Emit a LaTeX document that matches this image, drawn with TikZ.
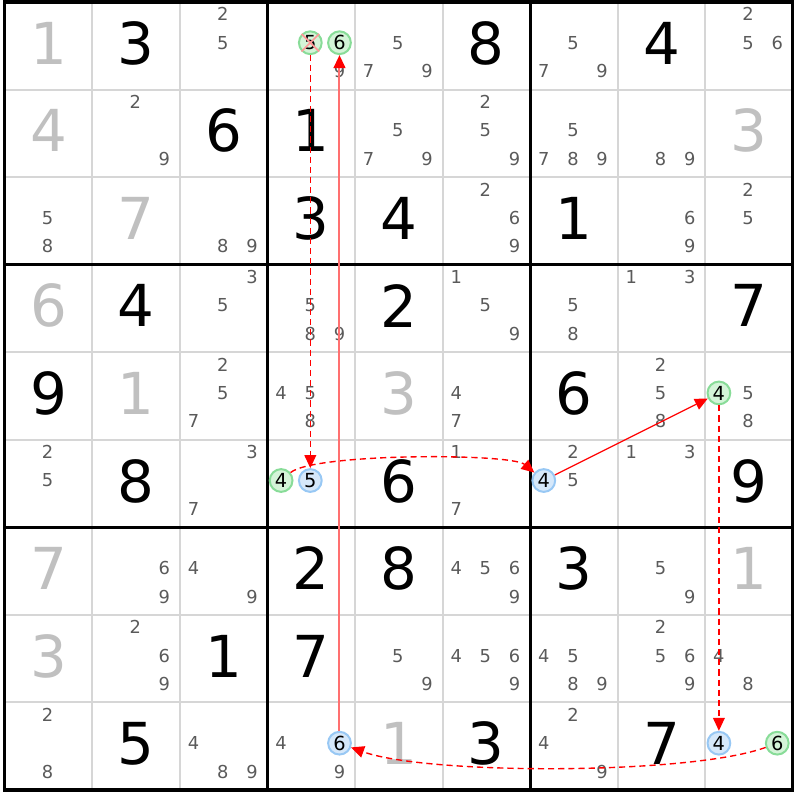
\documentclass[tikz,border=0pt]{standalone}
\usepackage{fontspec}
\setmainfont{DejaVu Sans}
\usepackage{tikz}
\usetikzlibrary{arrows.meta}
\definecolor{candgrey}{HTML}{5A5A5A}
\definecolor{solgrey}{HTML}{C0C0C0}
\definecolor{thingrid}{HTML}{D6D6D6}
\definecolor{grnfill}{HTML}{D4F4D8}
\definecolor{grnline}{HTML}{88DC98}
\definecolor{blufill}{HTML}{D6E8FA}
\definecolor{bluline}{HTML}{98C8F4}
\definecolor{palered}{HTML}{FF7070}
\tikzset{
	givtext/.style={inner sep=0pt, font=\fontsize{18.8}{19}\selectfont, text=black},
	soltext/.style={inner sep=0pt, font=\fontsize{18.8}{19}\selectfont, text=solgrey},
	candtext/.style={inner sep=0pt, font=\fontsize{5.8}{6}\selectfont, text=candgrey},
	grncirc/.style={circle, inner sep=0pt, minimum size=0.26cm, draw=grnline, fill=grnfill, line width=0.65pt, font=\fontsize{6.3}{6.5}\selectfont, text=black},
	blucirc/.style={circle, inner sep=0pt, minimum size=0.26cm, draw=bluline, fill=blufill, line width=0.65pt, font=\fontsize{6.3}{6.5}\selectfont, text=black},
	linkdash/.style={draw=red, line width=0.45pt, dash pattern=on 2pt off 1.3pt, -{Triangle[length=4.2pt,width=3.8pt]}},
	linksolid/.style={draw=red, line width=0.4pt, -{Triangle[length=4.2pt,width=3.8pt]}},
	linkpale/.style={draw=palered, line width=0.65pt, -{Triangle[length=4.2pt,width=3.8pt,color=red]}},
	xline/.style={draw=red!40, line width=0.55pt}
}
\newcommand{\given}[3]{\node[givtext] (g#1#2) at (#2-0.5,-#1+0.53) {#3};}
\newcommand{\solved}[3]{\node[soltext] (g#1#2) at (#2-0.5,-#1+0.53) {#3};}
\newcommand{\cands}[3]{\foreach \d in {#3}{
			\node[candtext] (c#1#2\d) at ({#2-1+(2*mod(\d-1,3)+1)/6-0.01},{-#1+1-0.14-0.325*div(\d-1,3)}) {\d};}}
\newcommand{\hcand}[4]{\node[#4] (h#1#2#3) at ({#2-1+(2*mod(#3-1,3)+1)/6-0.01},{-#1+1-0.14-0.325*div(#3-1,3)}) {#3};}

\begin{document}
\begin{tikzpicture}

	\useasboundingbox (-0.054,-9.114) rectangle (9.049,0.023);

	\foreach \i in {1,2,4,5,7,8}{
		\draw[thingrid, line width=0.65pt] (\i,0) -- (\i,-9);
		\draw[thingrid, line width=0.65pt] (0,-\i) -- (9,-\i);
	}
	\foreach \i in {0,3,6,9}{
		\draw[black, line width=1pt] (\i,0.016) -- (\i,-9.016);
		\draw[black, line width=1pt] (-0.016,-\i) -- (9.016,-\i);
	}

	\solved{1}{1}{1}
	\given{1}{2}{3}
	\cands{1}{3}{2,5}
	\cands{1}{4}{9}
	\hcand{1}{4}{5}{grncirc}
	\hcand{1}{4}{6}{grncirc}
	\cands{1}{5}{5,7,9}
	\given{1}{6}{8}
	\cands{1}{7}{5,7,9}
	\given{1}{8}{4}
	\cands{1}{9}{2,5,6}

	\solved{2}{1}{4}
	\cands{2}{2}{2,9}
	\given{2}{3}{6}
	\given{2}{4}{1}
	\cands{2}{5}{5,7,9}
	\cands{2}{6}{2,5,9}
	\cands{2}{7}{5,7,8,9}
	\cands{2}{8}{8,9}
	\solved{2}{9}{3}

	\cands{3}{1}{5,8}
	\solved{3}{2}{7}
	\cands{3}{3}{8,9}
	\given{3}{4}{3}
	\given{3}{5}{4}
	\cands{3}{6}{2,6,9}
	\given{3}{7}{1}
	\cands{3}{8}{6,9}
	\cands{3}{9}{2,5}

	\solved{4}{1}{6}
	\given{4}{2}{4}
	\cands{4}{3}{3,5}
	\cands{4}{4}{5,8,9}
	\given{4}{5}{2}
	\cands{4}{6}{1,5,9}
	\cands{4}{7}{5,8}
	\cands{4}{8}{1,3}
	\given{4}{9}{7}

	\given{5}{1}{9}
	\solved{5}{2}{1}
	\cands{5}{3}{2,5,7}
	\cands{5}{4}{4,5,8}
	\solved{5}{5}{3}
	\cands{5}{6}{4,7}
	\given{5}{7}{6}
	\cands{5}{8}{2,5,8}
	\cands{5}{9}{5,8}
	\hcand{5}{9}{4}{grncirc}

	\cands{6}{1}{2,5}
	\given{6}{2}{8}
	\cands{6}{3}{3,7}
	\hcand{6}{4}{4}{grncirc}
	\hcand{6}{4}{5}{blucirc}
	\given{6}{5}{6}
	\cands{6}{6}{1,7}
	\cands{6}{7}{2,5}
	\hcand{6}{7}{4}{blucirc}
	\cands{6}{8}{1,3}
	\given{6}{9}{9}

	\solved{7}{1}{7}
	\cands{7}{2}{6,9}
	\cands{7}{3}{4,9}
	\given{7}{4}{2}
	\given{7}{5}{8}
	\cands{7}{6}{4,5,6,9}
	\given{7}{7}{3}
	\cands{7}{8}{5,9}
	\solved{7}{9}{1}

	\solved{8}{1}{3}
	\cands{8}{2}{2,6,9}
	\given{8}{3}{1}
	\given{8}{4}{7}
	\cands{8}{5}{5,9}
	\cands{8}{6}{4,5,6,9}
	\cands{8}{7}{4,5,8,9}
	\cands{8}{8}{2,5,6,9}
	\cands{8}{9}{4,8}

	\cands{9}{1}{2,8}
	\given{9}{2}{5}
	\cands{9}{3}{4,8,9}
	\cands{9}{4}{4,9}
	\hcand{9}{4}{6}{blucirc}
	\solved{9}{5}{1}
	\given{9}{6}{3}
	\cands{9}{7}{2,4,9}
	\given{9}{8}{7}
	\hcand{9}{9}{4}{blucirc}
	\hcand{9}{9}{6}{grncirc}

	\draw[xline] (h145.135) -- (h145.-45) (h145.45) -- (h145.-135);

	\draw[linkdash] (h145) -- (h645);
	\draw[linkdash] (h644) to[out=40, in=140, looseness=0.32] (h674);
	\draw[linksolid] (h674) -- (h594);
	\draw[linkdash] (h594) -- (h994);
	\draw[linkdash] (h996) to[out=200, in=-20, looseness=0.5] (h946);
	\draw[linkpale] (h946) -- (h146);

\end{tikzpicture}
\end{document}
